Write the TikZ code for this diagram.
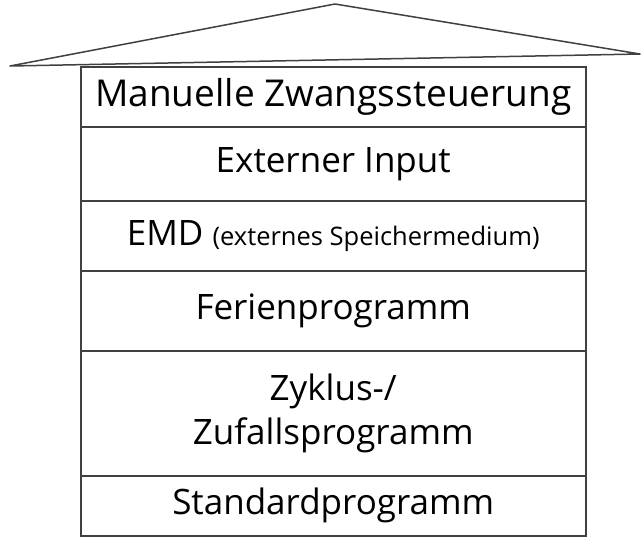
\documentclass[tikz,border=0pt]{standalone}
\usepackage{fontspec}
\setmainfont{Open Sans}
\begin{document}
\begin{tikzpicture}[x=1pt,y=-1pt,
  row/.style={draw=black!75,line width=1.5pt,minimum width=505pt,inner sep=0pt,anchor=north west,font=\fontsize{35}{40}\selectfont,align=center}]
\useasboundingbox (0,0) rectangle (642,542);
\fill[white] (0,0) rectangle (642,542);
\draw[black!75,line width=1.5pt,line join=round] (10,66) -- (335,4) -- (640,54) -- cycle;
\node[row,minimum height=60pt] (r1) at (80,66) {\fontsize{37}{40}\selectfont Manuelle Zwangssteuerung};
\node[row,minimum height=74pt] (r2) at (80,126) {Externer Input};
\node[row,minimum height=70pt] (r3) at (80,200) {EMD {\fontsize{25.5}{28}\selectfont(externes Speichermedium)}};
\node[row,minimum height=80pt] (r4) at (80,270) {Ferienprogramm};
\node[row,minimum height=125pt] (r5) at (80,350) {Zyklus-/\\[4pt]Zufallsprogramm};
\node[row,minimum height=60pt] (r6) at (80,475) {Standardprogramm};
\end{tikzpicture}
\end{document}
